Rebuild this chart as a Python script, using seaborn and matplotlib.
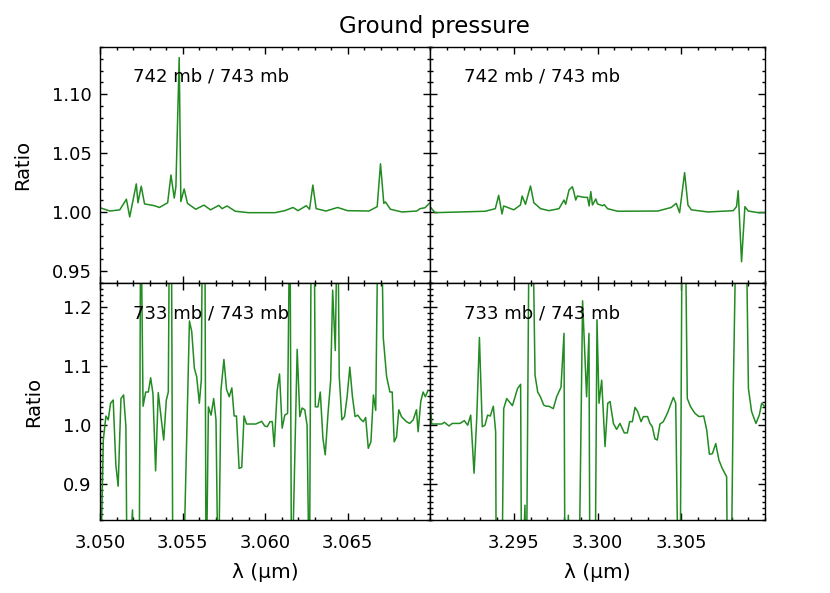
"""
Ground pressure ratio spectra - four panel plot
"""
import matplotlib
matplotlib.use("Agg")
import matplotlib.pyplot as plt
from matplotlib.ticker import MultipleLocator, FormatStrFormatter
import seaborn as sns

sns.set_style("ticks")
plt.rcParams["font.family"] = ["DejaVu Sans"]
plt.rcParams["text.color"] = "black"
plt.rcParams["axes.labelcolor"] = "black"
plt.rcParams["xtick.color"] = "black"
plt.rcParams["ytick.color"] = "black"

# ========== data ==========
# left window, 742 mb / 743 mb
wl_a = [3.05000, 3.0506, 3.0512, 3.0516, 3.0518, 3.0522, 3.0523, 3.0525, 3.0527, 3.0533,
        3.0536, 3.0541, 3.0543, 3.0545, 3.0546, 3.0548, 3.0549, 3.0551, 3.0553, 3.0558,
        3.0563, 3.0567, 3.0572, 3.0574, 3.0577, 3.0582, 3.0590, 3.0606, 3.0612, 3.0617,
        3.0620, 3.0625, 3.0627, 3.0629, 3.0631, 3.0637, 3.0644, 3.0650, 3.0663, 3.0668,
        3.0670, 3.0672, 3.0673, 3.0676, 3.0683, 3.0692, 3.0694, 3.0697, 3.0700]
ratio_a = [1.0038, 1.001, 1.002, 1.011, 0.996, 1.024, 1.008, 1.022, 1.007, 1.0055,
           1.004, 1.008, 1.0315, 1.012, 1.0216, 1.131, 1.009, 1.0197, 1.0075, 1.0025,
           1.006, 1.002, 1.0058, 1.003, 1.0053, 1.0008, 0.9996, 0.9996, 1.0013, 1.004,
           1.0013, 1.0055, 1.0025, 1.023, 1.003, 1.001, 1.004, 1.0013, 1.001, 1.0047,
           1.041, 1.0075, 1.0087, 1.0025, 1.0002, 1.001, 1.003, 1.0038, 1.008]

# right window, 742 mb / 743 mb
wl_b = [3.2900, 3.2903, 3.2933, 3.2939, 3.2941, 3.2943, 3.2944, 3.2950, 3.2954, 3.2955,
        3.2957, 3.2960, 3.2962, 3.2966, 3.2971, 3.2977, 3.2980, 3.2981, 3.2983, 3.2985,
        3.2986, 3.2987, 3.2988, 3.2992, 3.2994, 3.2995, 3.2996, 3.2997, 3.2999, 3.3000,
        3.3003, 3.3004, 3.3006, 3.3012, 3.3036, 3.3044, 3.3047, 3.3049, 3.3052, 3.3054,
        3.3056, 3.3066, 3.3081, 3.3083, 3.3084, 3.3086, 3.3088, 3.3090, 3.3096, 3.3100]
ratio_b = [1.0047, 0.9996, 1.0008, 1.003, 1.0143, 0.9985, 1.0053, 1.002, 1.0061, 1.0137,
           1.0067, 1.0222, 1.008, 1.003, 1.0013, 1.003, 1.0103, 1.0067, 1.0188, 1.0216,
           1.0165, 1.0103, 1.0137, 1.0126, 1.0126, 1.0053, 1.0174, 1.0061, 1.0112, 1.007,
           1.0055, 1.0064, 1.003, 1.0008, 1.001, 1.004, 1.0075, 0.9996, 1.0335, 1.0061,
           1.002, 1.0002, 1.0013, 1.0047, 1.0182, 0.958, 1.0047, 1.001, 0.9996, 0.9996]

# left window, 733 mb / 743 mb
wl_c = [3.05000, 3.05020, 3.05036, 3.05050, 3.05064, 3.05080, 3.05096, 3.05110, 3.05127, 3.05143,
        3.05157, 3.05165, 3.05197, 3.05207, 3.05237, 3.05247, 3.05261, 3.05277, 3.05293, 3.05307,
        3.05321, 3.05337, 3.05353, 3.05386, 3.05402, 3.05414, 3.05422, 3.05432, 3.05442, 3.05502,
        3.05542, 3.05556, 3.05572, 3.05586, 3.05602, 3.05614, 3.05622, 3.05635, 3.05643, 3.05657,
        3.05673, 3.05689, 3.05703, 3.05717, 3.05733, 3.05751, 3.05767, 3.05783, 3.05799, 3.05813,
        3.05827, 3.05843, 3.05859, 3.05873, 3.05888, 3.05944, 3.05980, 3.05998, 3.06014, 3.06030,
        3.06044, 3.06056, 3.06074, 3.06088, 3.06104, 3.06120, 3.06137, 3.06151, 3.06161, 3.06195,
        3.06211, 3.06225, 3.06241, 3.06255, 3.06269, 3.06281, 3.06297, 3.06305, 3.06321, 3.06335,
        3.06351, 3.06365, 3.06382, 3.06398, 3.06410, 3.06426, 3.06440, 3.06450, 3.06466, 3.06482,
        3.06498, 3.06514, 3.06530, 3.06546, 3.06562, 3.06580, 3.06596, 3.06610, 3.06626, 3.06642,
        3.06657, 3.06671, 3.06687, 3.06703, 3.06717, 3.06737, 3.06757, 3.06771, 3.06783, 3.06797,
        3.06811, 3.06827, 3.06857, 3.06877, 3.06898, 3.06918, 3.06928, 3.06944, 3.06958, 3.06972,
        3.06988]
ratio_c = [0.70, 0.975, 1.0155, 1.009, 1.037, 1.0425, 0.933, 0.897, 1.045, 1.051,
           0.9975, 0.70, 0.857, 0.70, 0.70, 1.40, 1.032, 1.056, 1.056, 1.080,
           1.053, 0.923, 1.055, 0.975, 1.0425, 1.056, 1.40, 1.40, 0.70, 0.70,
           1.176, 1.158, 1.096, 1.082, 1.037, 1.076, 1.40, 1.40, 0.70, 1.031,
           1.017, 1.045, 1.009, 0.70, 1.059, 1.111, 1.0605, 1.048, 1.063, 1.0155,
           1.0155, 0.927, 0.929, 1.0155, 1.002, 1.002, 1.0065, 0.9987, 0.9975, 1.006,
           1.006, 0.964, 1.059, 1.0865, 0.995, 1.017, 1.020, 1.40, 0.70, 1.128,
           1.0145, 1.029, 1.026, 1.000, 0.70, 1.40, 1.40, 1.031, 1.031, 1.056,
           0.978, 0.950, 1.020, 1.076, 1.228, 1.126, 1.40, 1.082, 1.009, 1.0145,
           1.049, 1.098, 1.048, 1.0145, 1.017, 1.010, 1.006, 1.013, 0.961, 0.972,
           1.051, 1.025, 1.40, 1.40, 1.147, 1.082, 1.056, 1.056, 0.972, 0.980,
           1.026, 1.0145, 1.006, 1.003, 1.009, 1.026, 0.989, 1.040, 1.056, 1.048,
           1.059]

# right window, 733 mb / 743 mb
wl_d = [3.29000, 3.29010, 3.29070, 3.29086, 3.29113, 3.29133, 3.29179, 3.29205, 3.29225, 3.29243,
        3.29263, 3.29279, 3.29295, 3.29312, 3.29328, 3.29344, 3.29360, 3.29378, 3.29392, 3.29396,
        3.29428, 3.29440, 3.29458, 3.29492, 3.29523, 3.29541, 3.29547, 3.29567, 3.29575, 3.29593,
        3.29611, 3.29627, 3.29643, 3.29659, 3.29679, 3.29693, 3.29710, 3.29736, 3.29756, 3.29782,
        3.29800, 3.29806, 3.29826, 3.29838, 3.29888, 3.29911, 3.29935, 3.29949, 3.29955, 3.29985,
        3.29997, 3.30009, 3.30025, 3.30045, 3.30061, 3.30075, 3.30095, 3.30114, 3.30134, 3.30160,
        3.30178, 3.30192, 3.30208, 3.30224, 3.30240, 3.30260, 3.30274, 3.30299, 3.30313, 3.30327,
        3.30343, 3.30357, 3.30373, 3.30393, 3.30417, 3.30453, 3.30467, 3.30483, 3.30493, 3.30506,
        3.30522, 3.30536, 3.30556, 3.30582, 3.30606, 3.30634, 3.30652, 3.30668, 3.30686, 3.30706,
        3.30725, 3.30745, 3.30771, 3.30777, 3.30797, 3.30811, 3.30831, 3.30885, 3.30901, 3.30920,
        3.30946, 3.30966, 3.30980, 3.31000]
ratio_d = [1.045, 1.002, 1.002, 1.005, 0.9987, 1.003, 1.003, 1.0077, 1.000, 1.017,
           0.919, 1.0116, 1.148, 0.9975, 1.000, 1.017, 1.0155, 1.032, 0.989, 0.70,
           0.70, 1.028, 1.045, 1.033, 1.062, 1.069, 0.70, 0.865, 0.70, 1.40,
           1.40, 1.0847, 1.056, 1.048, 1.034, 1.032, 1.032, 1.028, 1.048, 1.064,
           1.155, 0.70, 0.848, 0.70, 0.70, 1.210, 1.048, 1.155, 0.70, 0.70,
           1.178, 1.037, 1.076, 0.964, 1.037, 1.040, 1.003, 0.993, 1.003, 0.987,
           0.987, 1.006, 1.006, 1.030, 1.023, 1.006, 1.0145, 1.0145, 1.003, 0.9975,
           0.977, 0.975, 1.002, 1.006, 1.020, 1.047, 1.037, 0.70, 0.70, 1.40,
           1.40, 1.045, 1.031, 1.020, 1.0145, 1.0155, 0.992, 0.951, 0.952, 0.969,
           0.941, 0.927, 0.913, 0.70, 0.70, 1.065, 1.40, 1.40, 1.062, 1.023,
           1.003, 1.017, 1.037, 1.031]

labels_top = "742 mb / 743 mb"
labels_bot = "733 mb / 743 mb"
xlim_left = (3.050, 3.070)
xlim_right = (3.290, 3.310)
xticks_left = [3.050, 3.055, 3.060, 3.065]
xticks_right = [3.295, 3.300, 3.305]
yticks_top = [0.95, 1.00, 1.05, 1.10]
yticks_bot = [0.9, 1.0, 1.1, 1.2]

GREEN = "#228b22"

# ========== figure ==========
fig = plt.figure(figsize=(8.30, 5.93), dpi=100)
x0, xm, x1 = 100 / 830, 430 / 830, 765 / 830
yb, ym, yt = 1 - 520 / 593, 1 - 283 / 593, 1 - 47 / 593

ax_a = fig.add_axes([x0, ym, xm - x0, yt - ym])
ax_b = fig.add_axes([xm, ym, x1 - xm, yt - ym])
ax_c = fig.add_axes([x0, yb, xm - x0, ym - yb])
ax_d = fig.add_axes([xm, yb, x1 - xm, ym - yb])

panels = [
    (ax_a, wl_a, ratio_a, xlim_left, xticks_left, (0.94, 1.14), yticks_top, "%.2f", labels_top),
    (ax_b, wl_b, ratio_b, xlim_right, xticks_right, (0.94, 1.14), yticks_top, "%.2f", labels_top),
    (ax_c, wl_c, ratio_c, xlim_left, xticks_left, (0.84, 1.24), yticks_bot, "%.1f", labels_bot),
    (ax_d, wl_d, ratio_d, xlim_right, xticks_right, (0.84, 1.24), yticks_bot, "%.1f", labels_bot),
]

for ax, wl, ratio, xl, xt, yl, yt_, fmt, lab in panels:
    sns.lineplot(x=wl, y=ratio, ax=ax, color=GREEN, linewidth=1.1,
                 estimator=None, sort=False)
    ax.set_xlim(*xl)
    ax.set_ylim(*yl)
    ax.set_xticks(xt)
    ax.xaxis.set_minor_locator(MultipleLocator(0.001))
    ax.set_yticks(yt_)
    ax.yaxis.set_minor_locator(MultipleLocator(0.01))
    ax.yaxis.set_major_formatter(FormatStrFormatter(fmt))
    ax.xaxis.set_major_formatter(FormatStrFormatter("%.3f"))
    ax.tick_params(which="both", direction="in", top=True, right=True,
                   labelsize=13, width=1.0, colors="black")
    ax.tick_params(which="major", length=5)
    ax.tick_params(which="minor", length=2.5)
    ax.tick_params(axis="x", pad=10)
    ax.tick_params(axis="y", pad=6)
    for sp in ax.spines.values():
        sp.set_linewidth(1.0)
        sp.set_color("black")
    ax.text(0.10, 0.873, lab, transform=ax.transAxes, fontsize=13,
            va="center", ha="left", color="black")

for ax in (ax_a, ax_b):
    ax.tick_params(axis="x", labelbottom=False)
for ax in (ax_b, ax_d):
    ax.tick_params(axis="y", labelleft=False)

for ax in (ax_a, ax_c):
    ax.set_ylabel("Ratio", fontsize=14, labelpad=14)
for ax in (ax_c, ax_d):
    ax.set_xlabel("λ (μm)", fontsize=14.5, labelpad=8)

fig.text(0.524, 1 - 27 / 593, "Ground pressure", ha="center", va="center",
         fontsize=16.5, color="black")

fig.savefig("out.png", dpi=100)
